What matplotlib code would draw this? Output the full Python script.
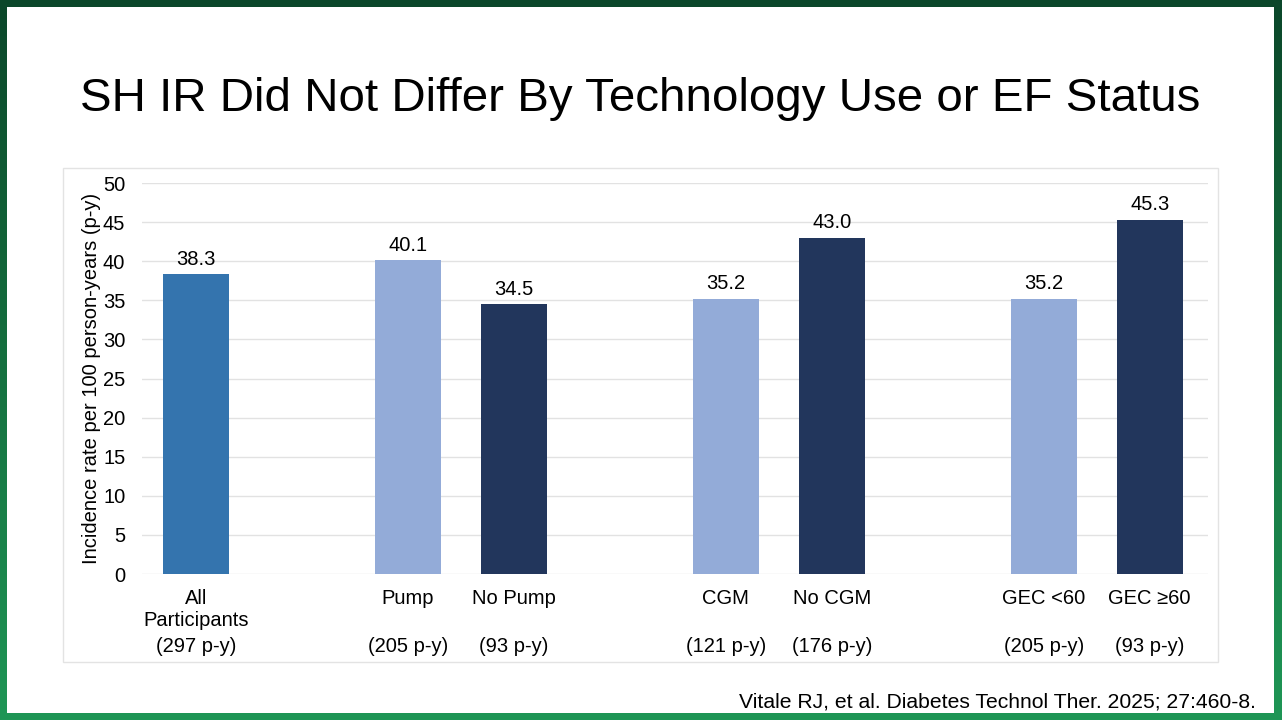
import numpy as np
import matplotlib
matplotlib.use("Agg")
import matplotlib.pyplot as plt
from matplotlib.patches import Rectangle
from matplotlib.colors import LinearSegmentedColormap

plt.rcParams['font.family'] = ['Liberation Sans', 'DejaVu Sans']

# data
groups = ["All\nParticipants", "Pump", "No Pump", "CGM", "No CGM", "GEC <60", "GEC \u226560"]
person_years = ["(297 p-y)", "(205 p-y)", "(93 p-y)", "(121 p-y)", "(176 p-y)", "(205 p-y)", "(93 p-y)"]
rates = [38.3, 40.1, 34.5, 35.2, 43.0, 35.2, 45.3]
slots = [0, 2, 3, 5, 6, 8, 9]
bar_colors = ["#3474ae", "#93abd8", "#22365c", "#93abd8", "#22365c", "#93abd8", "#22365c"]

W, H = 1282, 720
fig = plt.figure(figsize=(W / 100, H / 100), dpi=100)

# green slide frame
bg = fig.add_axes([0, 0, 1, 1], zorder=-10)
cmap = LinearSegmentedColormap.from_list("frame", ["#0b472a", "#15703f", "#1f9656"])
bg.imshow(np.linspace(0, 1, 256).reshape(-1, 1), aspect="auto", cmap=cmap,
          extent=[0, 1, 0, 1], origin="upper")
bg.add_patch(Rectangle((7 / W, 7 / H), (1274 - 7) / W, (713 - 7) / H,
                       facecolor="white", edgecolor="none"))
# chart box
bg.add_patch(Rectangle((63 / W, 1 - 662 / H), (1218 - 63) / W, (662 - 168) / H,
                       facecolor="none", edgecolor="#e3e3e3", lw=1))
bg.set_xlim(0, 1)
bg.set_ylim(0, 1)
bg.axis("off")

fig.text(640 / W, 1 - 99 / H, "SH IR Did Not Differ By Technology Use or EF Status",
         ha="center", va="center", fontsize=34.2, color="black")
fig.text(1256 / W, 1 - 702 / H, "Vitale RJ, et al. Diabetes Technol Ther. 2025; 27:460-8.",
         ha="right", va="center", fontsize=15.2, color="black")

ax = fig.add_axes([142 / W, 1 - 574 / H, (1208 - 142) / W, (574 - 183) / H])
ax.bar(slots, rates, width=0.62, color=bar_colors, zorder=3)
for s, r in zip(slots, rates):
    ax.text(s, r + 0.7, f"{r:.1f}", ha="center", va="bottom", fontsize=14.5)

ax.set_xlim(-0.51, 9.55)
ax.set_ylim(0, 50)
ax.set_yticks(range(0, 51, 5))
ax.tick_params(axis="y", length=0, labelsize=14.5, pad=12)
ax.set_xticks([])
ax.grid(axis="y", color="#e2e2e2", lw=1, zorder=0)
for sp in ax.spines.values():
    sp.set_visible(False)
ax.set_ylabel("Incidence rate per 100 person-years (p-y)", fontsize=14.5)
ax.yaxis.set_label_coords(-41 / (1208 - 142), 0.5)

for s, g, p in zip(slots, groups, person_years):
    ax.text(s, -1.9, g, ha="center", va="top", fontsize=14.5, linespacing=1.2,
            clip_on=False)
    ax.text(s, -9.3, p, ha="center", va="center", fontsize=14.5,
            clip_on=False)

fig.savefig("out.png", dpi=100)
